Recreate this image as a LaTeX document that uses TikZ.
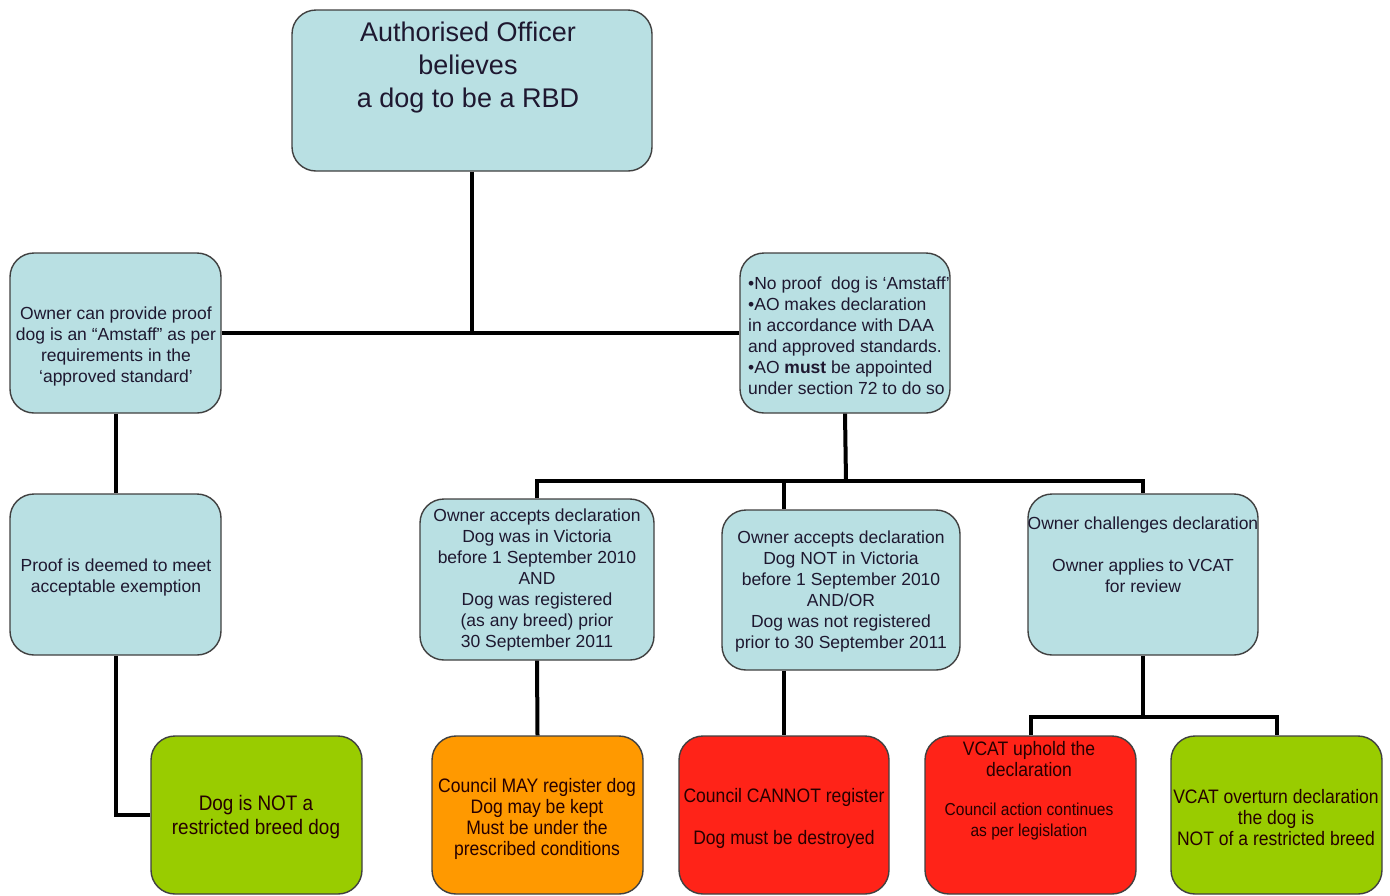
\documentclass[tikz,border=0pt]{standalone}
\usepackage{fontspec}
\setmainfont{Liberation Sans}
\newfontfamily\narrowfont[FakeStretch=0.9]{Liberation Sans}
\definecolor{lblue}{HTML}{B9E0E3}
\definecolor{lgreen}{HTML}{99CC00}
\definecolor{lorange}{HTML}{FF9900}
\definecolor{lred}{HTML}{FF2318}
\definecolor{boxline}{HTML}{404040}
\definecolor{txtc}{HTML}{1E1830}
\tikzset{
  box/.style={draw=boxline, line width=1.4pt, rounded corners=24pt, inner sep=0pt},
  bluebox/.style={box, fill=lblue},
  greenbox/.style={box, fill=lgreen},
  orangebox/.style={box, fill=lorange},
  redbox/.style={box, fill=lred},
  conn/.style={draw=black, line width=4pt},
  txt/.style={inner sep=0pt, align=center, text=txtc, font=\fontsize{17.5}{21}\selectfont},
  btxt/.style={inner sep=0pt, align=center, text=black!85!red, font=\narrowfont\fontsize{19.5}{21}\selectfont},
}
\begin{document}
\begin{tikzpicture}[x=1pt,y=-1pt]
\useasboundingbox (0,0) rectangle (1390,895);
% boxes
\node[bluebox, minimum width=360pt, minimum height=161pt] (top) at (472,90.5) {};
\node[bluebox, minimum width=211pt, minimum height=160pt] (own) at (115.5,333) {};
\node[bluebox, minimum width=210pt, minimum height=160pt] (ao) at (845,333) {};
\node[bluebox, minimum width=211pt, minimum height=161pt] (proof) at (115.5,574.5) {};
\node[bluebox, minimum width=234pt, minimum height=161pt] (acc1) at (537,579.5) {};
\node[bluebox, minimum width=238pt, minimum height=160pt] (acc2) at (841,590) {};
\node[bluebox, minimum width=230pt, minimum height=161pt] (chal) at (1143,574.5) {};
\node[greenbox, minimum width=211pt, minimum height=158pt] (notrbd) at (256.5,815) {};
\node[orangebox, minimum width=211pt, minimum height=158pt] (may) at (537.5,815) {};
\node[redbox, minimum width=210pt, minimum height=158pt] (cannot) at (784,815) {};
\node[redbox, minimum width=211pt, minimum height=158pt] (uphold) at (1030.5,815) {};
\node[greenbox, minimum width=211pt, minimum height=158pt] (overturn) at (1276.5,815) {};
% texts
\node[txt, font=\fontsize{27}{33}\selectfont] (ttop) at (468,67.5) {Authorised Officer\\believes\\a dog to be a RBD};
\node[txt] (town) at (116,346) {Owner can provide proof\\dog is an “Amstaff” as per\\requirements in the\\‘approved standard’};
\node[txt, align=left, anchor=west] (tao) at (748,336) {•No proof\ \ dog is ‘Amstaff’\\•AO makes declaration\\in accordance with DAA\\and approved standards.\\•AO \textbf{must} be appointed\\under section 72 to do so};
\node[txt] (tproof) at (116,577) {Proof is deemed to meet\\acceptable exemption};
\node[txt] (tacc1) at (537,580) {Owner accepts declaration\\Dog was in Victoria\\before 1 September 2010\\AND\\Dog was registered\\(as any breed) prior\\30 September 2011};
\node[txt] (tacc2) at (841,591) {Owner accepts declaration\\Dog NOT in Victoria\\before 1 September 2010\\AND/OR\\Dog was not registered\\prior to 30 September 2011};
\node[txt] (tchal) at (1143,555) {Owner challenges declaration\\[21pt]Owner applies to VCAT\\for review};
\node[btxt, font=\narrowfont\fontsize{21}{24}\selectfont] (tnotrbd) at (256,817) {Dog is NOT a\\restricted breed dog};
\node[btxt] (tmay) at (537,818.5) {Council MAY register dog\\Dog may be kept\\Must be under the\\prescribed conditions};
\node[btxt] (tcannot) at (784,818) {Council CANNOT register\\[21pt]Dog must be destroyed};
\node[btxt] (tuphold) at (1029,790.5) {VCAT uphold the\\declaration\\[18pt]{\fontsize{17.3}{20}\selectfont Council action continues}\\{\fontsize{17.3}{20}\selectfont as per legislation}};
\node[btxt] (toverturn) at (1276,818) {VCAT overturn declaration\\the dog is\\NOT of a restricted breed};
% connectors
\coordinate (br) at (846,481);
\coordinate (br2) at (1143,717);
\draw[conn] (top.south) -- (top.south |- own.east);
\draw[conn] (own.east) -- (ao.west);
\draw[conn] (own.south) -- (proof.north);
\draw[conn] (proof.south) |- (notrbd.west);
\draw[conn] (ao.south) -- (br);
\draw[conn] (acc1.north) |- (br) -| (chal.north);
\draw[conn] (cannot.north |- br) -- (cannot.north |- acc2.north);
\draw[conn] (acc2.south -| cannot.north) -- (cannot.north);
\draw[conn] (acc1.south) -- (may.north);
\draw[conn] (chal.south) -- (br2);
\draw[conn] (uphold.north) |- (br2) -| (overturn.north);
\end{tikzpicture}
\end{document}
